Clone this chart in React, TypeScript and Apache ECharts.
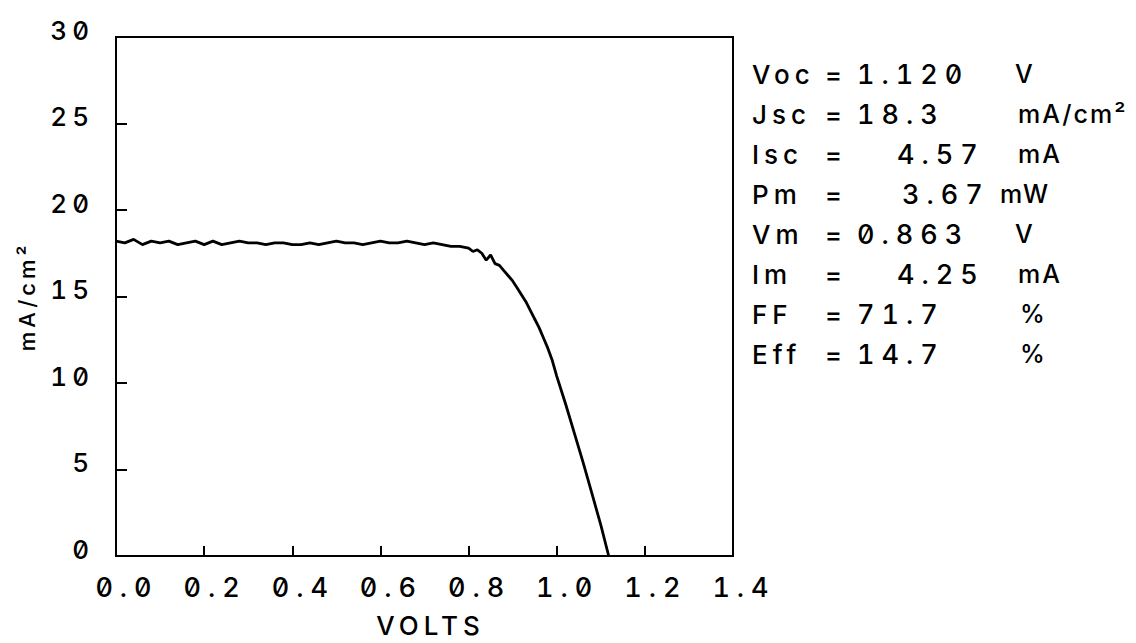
import React, { useEffect, useRef } from "react";
import * as echarts from "echarts";

// I-V curve samples (volts, mA/cm2)
const voltage = [
  0.0, 0.02, 0.04, 0.06, 0.08, 0.1, 0.12, 0.14, 0.16, 0.18,
  0.2, 0.22, 0.24, 0.26, 0.28, 0.3, 0.32, 0.34, 0.36, 0.38,
  0.4, 0.42, 0.44, 0.46, 0.48, 0.5, 0.52, 0.54, 0.56, 0.58,
  0.6, 0.62, 0.64, 0.66, 0.68, 0.7, 0.72, 0.74, 0.76, 0.78,
  0.8, 0.81, 0.82, 0.83, 0.84, 0.85, 0.86, 0.87, 0.88, 0.89,
  0.9, 0.91, 0.92, 0.93, 0.94, 0.95, 0.96, 0.97, 0.98, 0.99,
  1.0, 1.02, 1.04, 1.06, 1.08, 1.1, 1.118,
];
const current = [
  18.2, 18.1, 18.3, 18.0, 18.2, 18.1, 18.2, 18.0, 18.1, 18.2,
  18.0, 18.2, 18.0, 18.1, 18.2, 18.1, 18.1, 18.0, 18.1, 18.1,
  18.0, 18.0, 18.1, 18.0, 18.1, 18.2, 18.1, 18.1, 18.0, 18.1,
  18.2, 18.1, 18.1, 18.2, 18.1, 18.0, 18.1, 18.0, 17.9, 17.9,
  17.8, 17.6, 17.7, 17.5, 17.1, 17.4, 16.9, 16.8, 16.5, 16.2,
  15.9, 15.5, 15.1, 14.7, 14.2, 13.7, 13.2, 12.6, 12.0, 11.3,
  10.4, 8.8, 7.1, 5.4, 3.6, 1.8, 0.0,
];

// Summary parameters
const paramNames = ["Voc", "Jsc", "Isc", "Pm", "Vm", "Im", "FF", "Eff"];
const paramValues = ["1.120", "18.3", "4.57", "3.67", "0.863", "4.25", "71.7", "14.7"];
const paramUnits = ["V", "mA/cm²", "mA", "mW", "V", "mA", "%", "%"];

// layout of the text panel (pixels)
const valueLeftX = [857, 857, 897, 902, 857, 897, 857, 857];
const unitX = [1015, 1018, 1018, 1000, 1015, 1018, 1020, 1020];

const FONT = "Inter, 'DejaVu Sans', sans-serif";

export default function App() {
  const ref = useRef<HTMLDivElement>(null);
  useEffect(() => {
    if (!ref.current) return;
    const chart = echarts.init(ref.current, undefined, { renderer: "svg" });
    const base = { fontFamily: FONT, fontWeight: 500, fill: "#000", verticalAlign: "middle" };
    const graphics: any[] = [];
    const rowTop = 74;
    const rowStep = 40;
    paramNames.forEach((name, i) => {
      const y = rowTop + i * rowStep;
      graphics.push({ type: "text", x: 752, y, style: { ...base, fontSize: 26, text: name } });
      graphics.push({ type: "text", x: 825, y, style: { ...base, fontSize: 26, text: "=" } });
      graphics.push({
        type: "text", x: valueLeftX[i], y,
        style: { ...base, fontSize: 27, text: paramValues[i] },
      });
      graphics.push({
        type: "text", x: unitX[i], y,
        style: { ...base, fontSize: 25, text: paramUnits[i] },
      });
    });
    chart.setOption({
      animation: false,
      backgroundColor: "#fff",
      grid: {
        left: 116, right: 403, top: 37, bottom: 83,
        show: true, borderColor: "#000", borderWidth: 2,
        containLabel: false,
      },
      xAxis: {
        type: "value", min: 0, max: 1.4, interval: 0.2,
        name: "VOLTS", nameLocation: "middle", nameGap: 56,
        nameTextStyle: { fontFamily: FONT, fontSize: 26, fontWeight: 500, color: "#000", padding: [0, 0, 0, 12] },
        axisLine: { show: false },
        axisTick: { show: true, inside: true, length: 10, lineStyle: { color: "#000", width: 2 } },
        splitLine: { show: false },
        axisLabel: {
          margin: 18, fontFamily: FONT, fontSize: 27, fontWeight: 500, color: "#000",
          formatter: (v: number) => `{v|${v.toFixed(1)}}`,
          rich: {
            v: {
              fontFamily: FONT, fontSize: 27, fontWeight: 500, color: "#000",
              padding: [0, 0, 0, 22],
            },
          },
        },
      },
      yAxis: {
        type: "value", min: 0, max: 30, interval: 5,
        name: "mA/cm²", nameLocation: "middle", nameGap: 78, nameRotate: 90,
        nameTextStyle: { fontFamily: FONT, fontSize: 22, fontWeight: 500, color: "#000" },
        axisLine: { show: false },
        axisTick: { show: true, inside: true, length: 11, lineStyle: { color: "#000", width: 2 } },
        splitLine: { show: false },
        axisLabel: {
          margin: 22, fontFamily: FONT, fontSize: 26, fontWeight: 500, color: "#000",
          verticalAlign: "bottom", lineHeight: 14,
        },
      },
      series: [
        {
          type: "line",
          data: voltage.map((v, i) => [v, current[i]]),
          symbol: "none",
          lineStyle: { color: "#000", width: 2.8 },
        },
      ],
      graphic: graphics,
    });
    return () => chart.dispose();
  }, []);
  return (
    <>
      <style>{`#chart text { font-feature-settings: "zero" 1, "tnum" 1 !important; font-variant-numeric: slashed-zero tabular-nums !important; letter-spacing: 5px; }
#chart text[style*="27px"] { letter-spacing: 7px; }
#chart text[style*="25px"] { letter-spacing: 2px; }
#chart text[style*="22px"] { letter-spacing: 4px; }`}</style>
      <div
        id="chart"
        ref={ref}
        style={{ position: "fixed", left: 0, top: 0, width: 1136, height: 643, background: "#fff" }}
      />
    </>
  );
}
